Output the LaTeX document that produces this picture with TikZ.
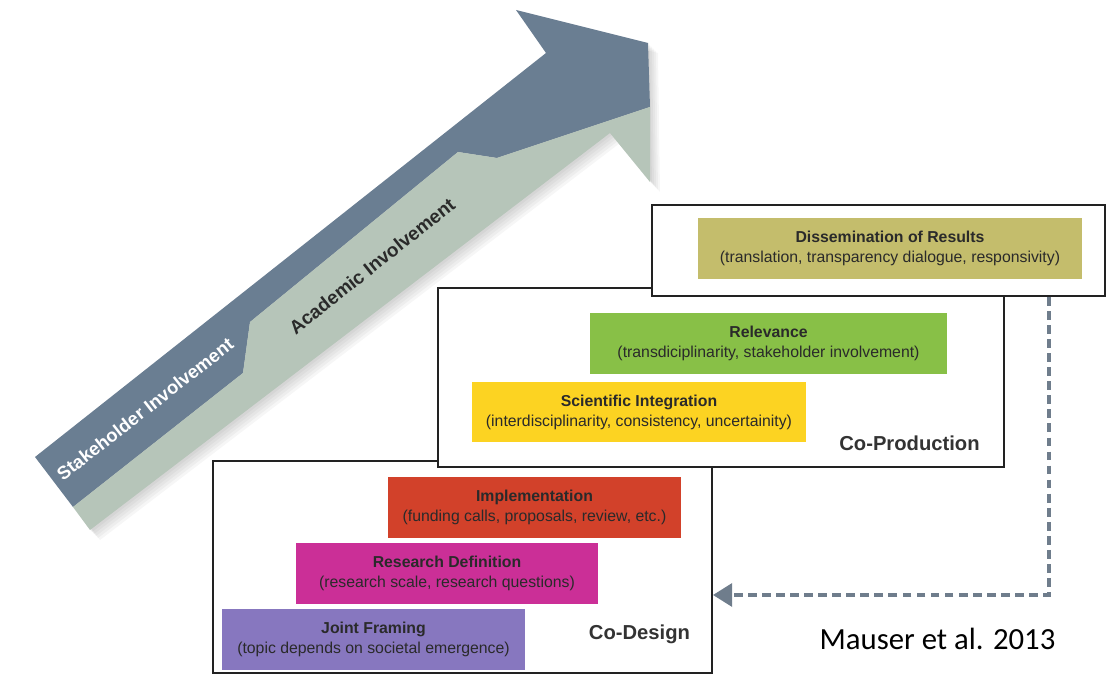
\documentclass[tikz,border=0pt]{standalone}
\usepackage{fontspec}
\setmainfont{Liberation Sans}
\newfontfamily\calibfont{Carlito}
\usetikzlibrary{arrows.meta}

\begin{document}
\begin{tikzpicture}[x=0.02cm,y=-0.02cm,
  frame/.style={draw=frameline,line width=1.1pt,fill=white,inner sep=0},
  stage/.style={fill=#1,inner sep=0,minimum height=1.22cm,align=center,text=boxtext,font=\fontsize{9}{11.4}\selectfont},
  phase/.style={font=\fontsize{11.5}{13}\selectfont\bfseries,text=phasetext},
  conn/.style={draw=connline,line width=2.4pt,dash pattern=on 5pt off 3pt,-{Triangle[length=11pt,width=13pt]}}]
\definecolor{slate}{HTML}{6A7E92}
\definecolor{sage}{HTML}{B6C5B9}
\definecolor{olive}{HTML}{C4BD6C}
\definecolor{leaf}{HTML}{88C047}
\definecolor{sun}{HTML}{FCD322}
\definecolor{brick}{HTML}{D2412A}
\definecolor{berry}{HTML}{CB2F97}
\definecolor{lilac}{HTML}{8777BF}
\definecolor{frameline}{HTML}{222222}
\definecolor{boxtext}{HTML}{2A2A2A}
\definecolor{phasetext}{HTML}{333333}
\definecolor{connline}{HTML}{6F7D8C}
\useasboundingbox (0,0) rectangle (1120,675);

% big arrow, soft shadow first
\foreach \d in {2,4,6,8,10}
  \fill[black,opacity=0.035,xshift=\d*0.02cm,yshift=-\d*0.02cm]
    (35,457) -- (546,53) -- (516,10) -- (648,43) -- (650,182) -- (610,133) -- (90,530) -- cycle;
\fill[slate] (35,457) -- (546,53) -- (516,10) -- (648,43) -- (650,107) -- (497,158) -- (458,152)
  -- (250,322) -- (243,373) -- (73,507) -- cycle;
\fill[sage] (73,507) -- (243,373) -- (250,322) -- (458,152) -- (497,158) -- (650,107) -- (650,182)
  -- (610,133) -- (90,530) -- cycle;
\node[rotate=38,text=white,font=\fontsize{10.5}{12}\selectfont\bfseries] (stake) at (145,409) {Stakeholder Involvement};
\node[rotate=38.5,text=boxtext,font=\fontsize{10.8}{12}\selectfont\bfseries] (acad) at (372,266) {Academic Involvement};

% the three frames
\node[frame,minimum width=9.98cm,minimum height=4.24cm] (codesign) at (462.5,567) {};
\node[frame,minimum width=11.32cm,minimum height=3.58cm] (coprod) at (721,377.5) {};
\node[frame,minimum width=9.06cm,minimum height=1.82cm] (dissem) at (878.5,250.5) {};

\foreach \nm/\crlr/\cx/\cy/\bw/\ttl/\subt in {
  results/olive/890/248.5/7.68/{Dissemination of Results}/{(translation, transparency dialogue, responsivity)},
  relev/leaf/768.5/343.5/7.14/{Relevance}/{(transdiciplinarity, stakeholder involvement)},
  integ/sun/639/412/6.68/{Scientific Integration}/{(interdisciplinarity, consistency, uncertainity)},
  implem/brick/534.5/507.5/5.86/{Implementation}/{(funding calls, proposals, review, etc.)},
  resdef/berry/447/573.5/6.04/{Research Definition}/{(research scale, research questions)},
  joint/lilac/373.5/639.5/6.06/{Joint Framing}/{(topic depends on societal emergence)}}
  {\node[stage=\crlr,minimum width=\bw cm] (\nm) at (\cx,\cy) {\textbf{\ttl}\\\subt};}

\node[phase] (prodlbl) at (909.5,443) {Co-Production};
\node[phase] (designlbl) at (639.5,634) {Co-Design};

% feedback loop
\coordinate (turn) at (1049,595);
\draw[conn] (turn |- dissem.south) -- (turn) -- (turn -| codesign.east);

\node[font=\calibfont\fontsize{17.5}{20}\selectfont] (cite) at (937.5,639) {Mauser et al. 2013};
\end{tikzpicture}
\end{document}
